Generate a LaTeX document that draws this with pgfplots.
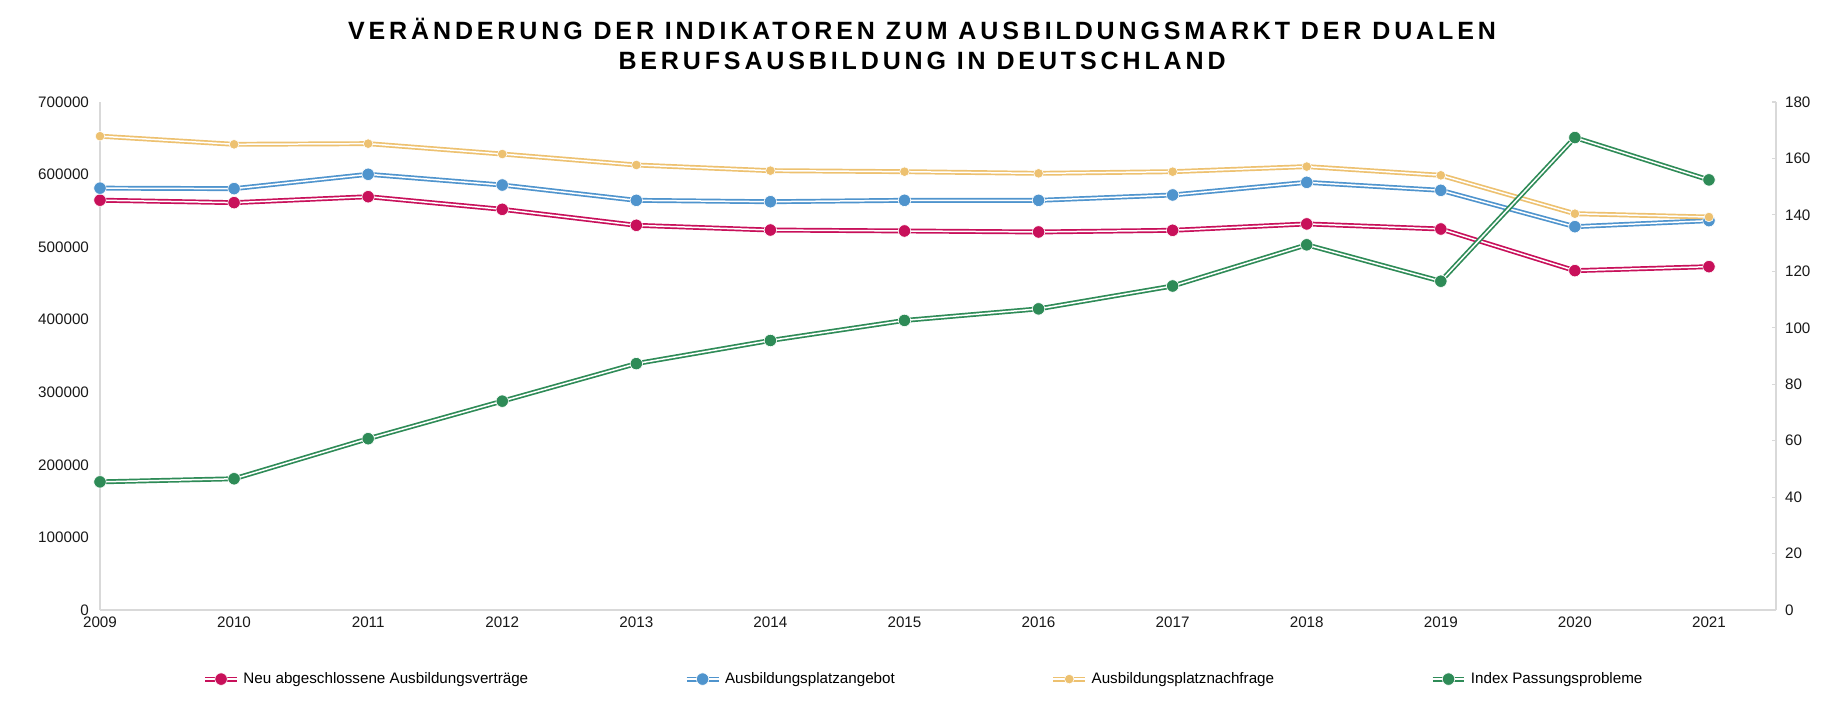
\documentclass[border=0pt]{standalone}
\usepackage{fontspec}
\setmainfont{Liberation Sans}
\newfontfamily\titlefont[LetterSpace=15.5]{Liberation Sans}
\usepackage{pgfplots}
\pgfplotsset{compat=1.18}

\definecolor{cRed}{HTML}{C8105A}
\definecolor{cBlue}{HTML}{4F94CD}
\definecolor{cYellow}{HTML}{EDC170}
\definecolor{cGreen}{HTML}{2E8B57}
\definecolor{axisgray}{HTML}{D9D9D9}
\newcommand{\ticksize}{\fontsize{7.6}{9}\selectfont}

\pgfplotsset{
  dl/.style={draw=#1, line width=0.85pt, double=white, double distance=0.75pt,
    mark=*, mark size=3.1pt, mark options={fill=#1, draw=white, line width=0.3pt}},
  common/.style={
    scale only axis, width=838pt, height=254pt,
    xmin=2009, xmax=2021.5, ymin=0,
    axis line style={draw=axisgray, line width=0.7pt},
    tick label style={font=\ticksize, text=black!90},
    /pgf/number format/assume math mode=true,
    scaled y ticks=false,
  },
}

\begin{document}
\begin{tikzpicture}
\useasboundingbox (-50pt,-51.5pt) rectangle (872pt,305pt);
\begin{axis}[common,
    ymax=700000,
    axis y line*=left, axis x line*=bottom,
    xtick={2009,2010,...,2021},
    ytick={0,100000,...,700000},
    major tick length=0pt,
    x tick label style={/pgf/number format/1000 sep={}},
    y tick label style={/pgf/number format/fixed, /pgf/number format/1000 sep={}, xshift=-2pt},
    title={VERÄNDERUNG DER INDIKATOREN ZUM AUSBILDUNGSMARKT DER DUALEN\\BERUFSAUSBILDUNG IN DEUTSCHLAND},
    title style={at={(0.4905,1)}, anchor=center, yshift=23pt, align=center,
      font=\titlefont\bfseries\fontsize{12.5}{14.7}\selectfont},
    legend style={at={(0.492,-0.136)}, anchor=center, draw=none, legend columns=4,
      font=\ticksize, /tikz/every even column/.append style={column sep=76pt}},
    legend image code/.code={\draw[mark repeat=2, mark phase=2] plot coordinates {(0cm,0cm) (0.28cm,0cm) (0.56cm,0cm)};},
]
\addplot[dl=cRed] coordinates {
  (2009,564700) (2010,561300) (2011,569500) (2012,552100) (2013,530100)
  (2014,523600) (2015,522300) (2016,520900) (2017,523200) (2018,532000)
  (2019,525000) (2020,467600) (2021,473100)};
\addlegendentry{Neu abgeschlossene Ausbildungsverträge}
\addplot[dl=cBlue] coordinates {
  (2009,581300) (2010,580600) (2011,600400) (2012,585600) (2013,564500)
  (2014,562600) (2015,564500) (2016,564500) (2017,571900) (2018,589300)
  (2019,578300) (2020,528200) (2021,536500)};
\addlegendentry{Ausbildungsplatzangebot}
\addplot[dl=cYellow, mark size=2.4pt] coordinates {
  (2009,652900) (2010,641700) (2011,642600) (2012,628300) (2013,613200)
  (2014,605400) (2015,604000) (2016,601700) (2017,604000) (2018,611000)
  (2019,599000) (2020,546100) (2021,541500)};
\addlegendentry{Ausbildungsplatznachfrage}
\addlegendimage{dl=cGreen}
\addlegendentry{Index Passungsprobleme}
\end{axis}
\begin{axis}[common,
    ymax=180,
    axis y line*=right, axis x line=none,
    ytick={0,20,...,180},
    tick align=inside, major tick length=2pt,
    tick style={draw=axisgray, line width=0.6pt},
    y tick label style={xshift=1pt},
]
\addplot[dl=cGreen] coordinates {
  (2009,45.4) (2010,46.5) (2011,60.7) (2012,74.0) (2013,87.3)
  (2014,95.5) (2015,102.6) (2016,106.7) (2017,114.8) (2018,129.4)
  (2019,116.5) (2020,167.4) (2021,152.4)};
\end{axis}
\end{tikzpicture}
\end{document}
